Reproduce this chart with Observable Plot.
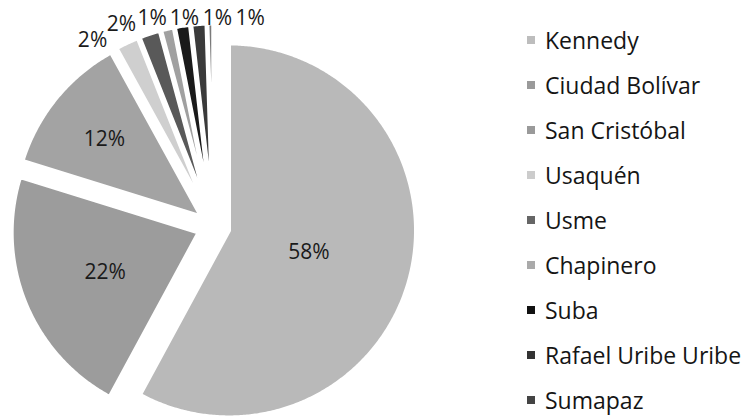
<!DOCTYPE html>
<html><head><meta charset="utf-8">
<script src="https://cdn.jsdelivr.net/npm/d3@7"></script>
<script src="https://cdn.jsdelivr.net/npm/@observablehq/plot@0.6"></script>
<style>
html,body{margin:0;padding:0;background:#fff;}
#wrap{position:relative;width:745px;height:416px;overflow:hidden;font-family:"Open Sans",sans-serif;}
#wrap svg{position:absolute;left:0;top:0;}
#legend{position:absolute;left:527px;top:17.5px;}
.item{display:flex;align-items:center;height:45px;font-size:23px;color:#151515;white-space:nowrap;}
.sw{width:8px;height:8px;margin-right:10px;}
</style></head><body><div id="wrap"><div id="legend"></div></div>
<script>
// Data
const names = ["Kennedy","Ciudad Bolívar","San Cristóbal","Usaquén","Usme","Chapinero","Suba","Rafael Uribe Uribe","Sumapaz"];
const values = [57.9, 21.9, 12.2, 2.0, 1.8, 1.1, 1.3, 1.3, 0.5];

// Styles / layout
const grays = ["#b9b9b9","#9c9c9c","#a3a3a3","#cfcfcf","#595959","#a0a0a0","#1a1a1a","#3a3a3a","#7a7a7a"];
const legendGrays = ["#bdbdbd","#9a9a9a","#9a9a9a","#cccccc","#666666","#aaaaaa","#111111","#333333","#444444"];
const W = 745, H = 416;
const CX = 213, CY = 226, R = 187, EXPLODE = 16;
const OUT_R = 222, MIN_SEP = 8.5 * Math.PI / 180, TOP_Y = 17.5;

const arcs = d3.pie().sort(null).value(d => d)(values);

const slicePts = [];
const inLabels = [];
const outLabels = [];
arcs.forEach((a, i) => {
  const m = (a.startAngle + a.endAngle) / 2;
  const ox = CX + EXPLODE * Math.sin(m), oy = CY - EXPLODE * Math.cos(m);
  slicePts.push({name: names[i], x: ox, y: oy});
  const n = Math.max(2, Math.ceil((a.endAngle - a.startAngle) / (Math.PI / 360)));
  for (let k = 0; k <= n; k++) {
    const t = a.startAngle + (a.endAngle - a.startAngle) * k / n;
    slicePts.push({name: names[i], x: ox + R * Math.sin(t), y: oy - R * Math.cos(t)});
  }
  const label = Math.round(values[i]) + "%";
  if (values[i] >= 5) {
    const f = 0.38 + 3.5 / values[i];
    inLabels.push({label, x: ox + f * R * Math.sin(m), y: oy - f * R * Math.cos(m) + 2});
  } else {
    outLabels.push({label, a: m});
  }
});
// spread outside labels apart
for (let it = 0; it < 300; it++) {
  for (let j = 0; j < outLabels.length - 1; j++) {
    const gap = outLabels[j + 1].a - outLabels[j].a;
    if (gap < MIN_SEP) {
      const push = (MIN_SEP - gap) / 2;
      outLabels[j].a -= push; outLabels[j + 1].a += push;
    }
  }
}
outLabels.forEach(l => {
  l.x = CX + OUT_R * Math.sin(l.a);
  l.y = Math.max(TOP_Y, CY - OUT_R * Math.cos(l.a));
});

const font = "Open Sans, sans-serif";
const chart = Plot.plot({
  width: W, height: H, margin: 0,
  x: {domain: [0, W], range: [0, W], axis: null},
  y: {domain: [0, H], range: [0, H], axis: null},
  color: {type: "ordinal", domain: names, range: grays},
  style: {background: "transparent", fontFamily: font},
  marks: [
    Plot.line(slicePts, {x: "x", y: "y", z: "name", fill: "name", stroke: "white", strokeWidth: 4, curve: "linear-closed"}),
    Plot.text(inLabels.concat(outLabels), {x: "x", y: "y", text: "label", fontSize: 21, fontFamily: font, fill: "#1a1a1a", textAnchor: "middle", lineAnchor: "middle"})
  ]
});
const wrap = document.getElementById("wrap");
wrap.insertBefore(chart, wrap.firstChild);

const legend = document.getElementById("legend");
names.forEach((n, i) => {
  const item = document.createElement("div");
  item.className = "item";
  const sw = document.createElement("span");
  sw.className = "sw";
  sw.style.background = legendGrays[i];
  const tx = document.createElement("span");
  tx.textContent = n;
  item.appendChild(sw); item.appendChild(tx);
  legend.appendChild(item);
});
</script></body></html>
